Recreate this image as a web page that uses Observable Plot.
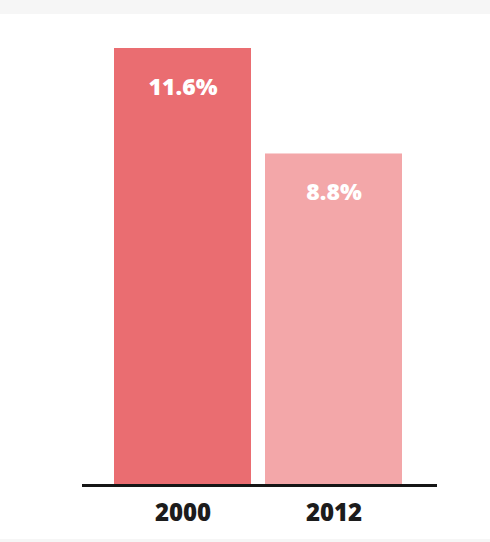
<!DOCTYPE html>
<html>
<head>
<meta charset="utf-8">
<script src="https://cdn.jsdelivr.net/npm/d3@7"></script>
<script src="https://cdn.jsdelivr.net/npm/@observablehq/plot@0.6"></script>
<style>
  html, body { margin: 0; padding: 0; background: #ffffff; }
  #wrap { position: relative; width: 490px; height: 542px; overflow: hidden; }
  #topband { position: absolute; left: 0; top: 0; width: 490px; height: 14px; background: #f6f6f6; }
  #botband { position: absolute; left: 0; bottom: 0; width: 490px; height: 3px; background: #f6f6f6; }
  #chart { position: absolute; left: 0; top: 0; }
  svg { background: transparent !important; }
</style>
</head>
<body>
<div id="wrap">
  <div id="topband"></div>
  <div id="botband"></div>
  <div id="chart"></div>
</div>
<script>
const years = ["2000", "2012"];
const values = [11.6, 8.8];
const labels = ["11.6%", "8.8%"];
const colors = ["#ea6d71", "#f3a7a9"];

const data = years.map((y, i) => ({year: y, value: values[i], label: labels[i], color: colors[i]}));

const font = "'Open Sans', sans-serif";

const chart = Plot.plot({
  width: 490,
  height: 542,
  marginLeft: 82,
  marginRight: 53,
  marginTop: 48,
  marginBottom: 57,
  style: {background: "transparent", fontFamily: font},
  x: {domain: years, range: [113.5, 402.3], paddingInner: 0.09, paddingOuter: 0},
  y: {domain: [0, 11.6], range: [485, 48], axis: null},
  marks: [
    Plot.barY(data, {x: "year", y: "value", fill: "color"}),
    Plot.ruleY([0], {stroke: "#161616", strokeWidth: 3}),
    Plot.text(data, {x: "year", y: "value", text: "label", dy: 39, fill: "white",
      fontSize: 23, fontWeight: 800, fontFamily: font}),
    Plot.axisX({tickSize: 0, tickPadding: 18, fontSize: 24, fontWeight: 800,
      fill: "#1c1c1c", fontFamily: font, label: null})
  ]
});
document.getElementById("chart").appendChild(chart);
</script>
</body>
</html>
